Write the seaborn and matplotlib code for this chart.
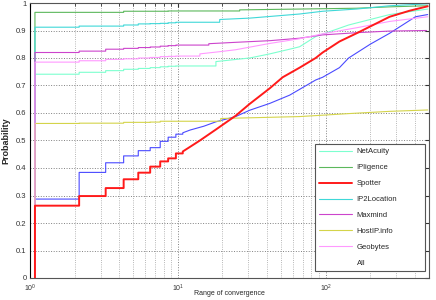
import matplotlib
matplotlib.use("Agg")
import matplotlib.pyplot as plt
import seaborn as sns
from matplotlib.ticker import FormatStrFormatter, MultipleLocator

# x positions of the small stairs at the start
step_x = [1.08, 2.15, 3.25, 4.3, 5.4, 6.5, 7.6, 8.6, 9.7]

# level after each stair, then a few points read along the rest of the curve
netacuity_steps = [0.741, 0.748, 0.754, 0.759, 0.762, 0.765, 0.768, 0.770, 0.771]
netacuity_tail_x = [18.1, 30.6, 41.9, 57.1, 66.7, 85.6, 143, 271, 490]
netacuity_tail_y = [0.787, 0.800, 0.815, 0.832, 0.841, 0.878, 0.920, 0.958, 0.978]

ipligence_steps = [0.966, 0.966, 0.966, 0.970, 0.970, 0.970, 0.970, 0.971, 0.971]
ipligence_tail_x = [26.2, 66.7, 162, 271, 490]
ipligence_tail_y = [0.975, 0.978, 0.981, 0.986, 0.990]

spotter_steps = [0.263, 0.298, 0.327, 0.359, 0.383, 0.405, 0.424, 0.435, 0.453]
spotter_tail_x = [10.8, 12.1, 14.1, 18.1, 24.6, 30.6, 41.9, 51.2, 66.7, 85.6, 95.4, 124, 162, 271, 370, 490]
spotter_tail_y = [0.460, 0.477, 0.500, 0.540, 0.590, 0.633, 0.690, 0.730, 0.765, 0.800, 0.820, 0.860, 0.890, 0.950, 0.972, 0.988]

ip2location_steps = [0.912, 0.916, 0.916, 0.920, 0.924, 0.925, 0.926, 0.928, 0.930]
ip2location_tail_x = [19.2, 30.6, 66.7, 95.4, 162, 271, 490]
ip2location_tail_y = [0.940, 0.945, 0.960, 0.970, 0.978, 0.990, 0.997]

maxmind_steps = [0.820, 0.825, 0.832, 0.835, 0.838, 0.840, 0.843, 0.845, 0.847]
maxmind_tail_x = [16.2, 24.6, 41.9, 66.7, 95.4, 162, 271, 481]
maxmind_tail_y = [0.852, 0.857, 0.863, 0.872, 0.884, 0.892, 0.898, 0.900]

hostip_steps = [0.562, 0.563, 0.563, 0.566, 0.566, 0.567, 0.570, 0.570, 0.570]
hostip_tail_x = [19.5, 66.7, 145, 271, 490]
hostip_tail_y = [0.580, 0.587, 0.598, 0.606, 0.611]

geobytes_steps = [0.785, 0.790, 0.795, 0.797, 0.800, 0.802, 0.805, 0.806, 0.807]
geobytes_tail_x = [14.1, 19.2, 24.6, 41.9, 66.7, 95.4, 162, 271, 490]
geobytes_tail_y = [0.815, 0.823, 0.830, 0.853, 0.870, 0.888, 0.910, 0.933, 0.950]

all_steps = [0.287, 0.384, 0.419, 0.444, 0.463, 0.474, 0.497, 0.512, 0.523]
all_tail_x = [10.8, 12.1, 15.0, 18.1, 24.6, 30.6, 41.9, 57.1, 85.6, 95.4, 124, 143, 200, 271, 405, 490]
all_tail_y = [0.528, 0.538, 0.552, 0.568, 0.587, 0.610, 0.635, 0.665, 0.720, 0.730, 0.765, 0.800, 0.850, 0.890, 0.950, 0.958]

legend_order = ["NetAcuity", "IPligence", "Spotter", "IP2Location",
                "Maxmind", "HostIP.info", "Geobytes", "All"]


def curve(levels, tail_x, tail_y):
    # stairs first, then the smoother part as read
    xs, ys = [step_x[0]], [0.0]
    for i, lev in enumerate(levels):
        nxt = step_x[i + 1] if i + 1 < len(step_x) else tail_x[0]
        xs += [step_x[i], nxt]
        ys += [lev, lev]
    return xs + tail_x, ys + tail_y


series = [
    # name, data, colour, width  (drawing order)
    ("All", (all_steps, all_tail_x, all_tail_y), "#4a4aff", 0.8),
    ("NetAcuity", (netacuity_steps, netacuity_tail_x, netacuity_tail_y), "#7dffcf", 0.8),
    ("IPligence", (ipligence_steps, ipligence_tail_x, ipligence_tail_y), "#5cb85c", 0.8),
    ("IP2Location", (ip2location_steps, ip2location_tail_x, ip2location_tail_y), "#3fd8d8", 0.8),
    ("Maxmind", (maxmind_steps, maxmind_tail_x, maxmind_tail_y), "#cc44cc", 0.8),
    ("HostIP.info", (hostip_steps, hostip_tail_x, hostip_tail_y), "#d4d44a", 0.8),
    ("Geobytes", (geobytes_steps, geobytes_tail_x, geobytes_tail_y), "#ff99ff", 0.8),
    ("Spotter", (spotter_steps, spotter_tail_x, spotter_tail_y), "#ff1a1a", 1.4),
]

sns.set_style("white")
plt.rcParams["font.family"] = ["Liberation Sans", "DejaVu Sans"]

fig = plt.figure(figsize=(4.36, 3.0), dpi=100)
ax = fig.add_axes([30 / 436, 22 / 300, 399 / 436, 275 / 300])

for name, (lev, tx, ty), col, lw in series:
    xs, ys = curve(lev, tx, ty)
    sns.lineplot(x=xs, y=ys, ax=ax, color=col, linewidth=lw,
                 sort=False, estimator=None, label=name)

ax.set_xscale("log")
ax.set_xlim(1, 500)
ax.set_ylim(0, 1)
ax.yaxis.set_major_locator(MultipleLocator(0.1))
ax.yaxis.set_major_formatter(FormatStrFormatter("%g"))

ax.grid(True, which="major", axis="both", color="#808080", linestyle=":", linewidth=0.7)
ax.grid(True, which="minor", axis="x", color="#a0a0a0", linestyle=":", linewidth=0.6)
ax.tick_params(which="both", direction="in", top=True, right=True,
               labelsize=5.5, colors="#333333", length=3, pad=2.5)
ax.tick_params(axis="x", which="both", pad=3.5, labelsize=5)
ax.tick_params(which="minor", length=1.8)
for s in ax.spines.values():
    s.set_color("#555555")
    s.set_linewidth(0.8)
ax.spines["left"].set_color("black")

ax.set_xlabel("Range of convergence", fontsize=5)
ax.xaxis.set_label_coords(0.5, -0.044)
ax.set_ylabel("Probability", fontsize=6.5, fontweight="bold", labelpad=4)

handles, labels = ax.get_legend_handles_labels()
hmap = dict(zip(labels, handles))
leg = ax.legend([hmap[n] for n in legend_order], legend_order,
                loc="lower left", mode="expand",
                bbox_to_anchor=(285 / 399, 7 / 275, 110 / 399, 129 / 275),
                borderaxespad=0, fontsize=5.5, handlelength=4.3,
                handletextpad=0.6, labelspacing=1.12, borderpad=0.55,
                fancybox=False, framealpha=1, edgecolor="#555555")
leg.get_frame().set_linewidth(0.8)
leg.get_lines()[-1].set_visible(False)

fig.savefig("out.png", dpi=100)
